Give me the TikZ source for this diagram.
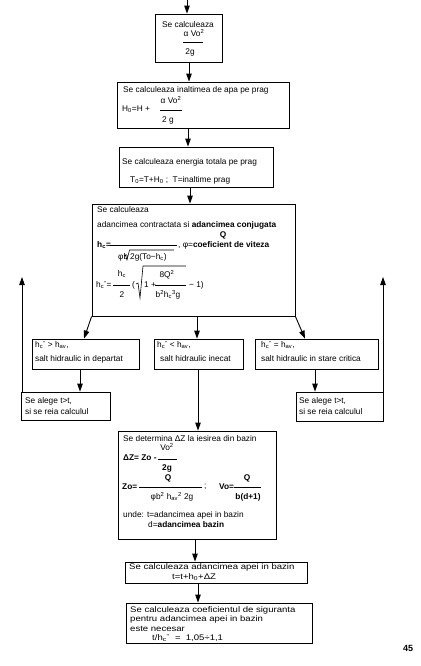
\documentclass[tikz,border=0pt]{standalone}
\usepackage{fontspec}
\setmainfont{Liberation Sans}
\newfontfamily\widefont[FakeStretch=1.18]{Liberation Sans}
\usetikzlibrary{arrows.meta}
\newcommand{\hcs}{h\textsubscript{c}\textsuperscript{''}}
\newcommand{\hav}{h\textsubscript{av}}
\begin{document}
\begin{tikzpicture}[x=1pt,y=-1pt,
  bx/.style={draw,line width=0.8pt,inner sep=0,rectangle},
  tx/.style={font=\fontsize{8.3}{9}\selectfont,inner sep=0,anchor=west},
  tc/.style={font=\fontsize{8.3}{9}\selectfont,inner sep=0,anchor=center},
  tw/.style={font=\widefont\fontsize{8.1}{9}\selectfont,inner sep=0,anchor=west},
  arr/.style={-{Triangle[length=8pt,width=5.5pt]},line width=0.9pt},
  fl/.style={line width=0.6pt}]
\fill[white] (0,0) rectangle (420,666);
\useasboundingbox (0,0) rectangle (420,666);

% boxes
\node[bx,minimum width=67pt,minimum height=48pt] (b1) at (188.5,38) {};
\node[bx,minimum width=172pt,minimum height=46pt] (b2) at (203,105) {};
\node[bx,minimum width=154pt,minimum height=40pt] (b3) at (196,167) {};
\node[bx,minimum width=203pt,minimum height=112pt] (b4) at (193.5,260) {};
\node[bx,minimum width=107pt,minimum height=30pt] (sL) at (85.5,354) {};
\node[bx,minimum width=89pt,minimum height=30pt] (sM) at (198.5,354) {};
\node[bx,minimum width=123pt,minimum height=30pt] (sR) at (316.5,354) {};
\node[bx,minimum width=89pt,minimum height=28pt] (aL) at (65.5,406) {};
\node[bx,minimum width=87pt,minimum height=29pt] (aR) at (339.5,406.5) {};
\node[bx,minimum width=158pt,minimum height=108pt] (b5) at (197,485) {};
\node[bx,minimum width=182pt,minimum height=21pt] (b6) at (216,572.5) {};
\node[bx,minimum width=186pt,minimum height=40pt] (b7) at (219,623) {};

% box 1 text
\node[tc] (t1a) at (188,25) {Se calculeaza};
\node[tc] (t1b) at (194,33) {α Vo\textsuperscript{2}};
\draw[fl] (183,42) -- (203,42);
\node[tc] (t1c) at (190,52) {2g};

% box 2 text
\node[tx] (t2a) at (123,90) {Se calculeaza inaltimea de apa pe prag};
\node[tc] (t2b) at (171,100) {α Vo\textsuperscript{2}};
\node[tx] (t2c) at (122,109) {H\textsubscript{0}=H +};
\draw[fl] (160,110) -- (182,110);
\node[tc] (t2d) at (168,120) {2 g};

% box 3 text
\node[tx] (t3a) at (122,162) {Se calculeaza energia totala pe prag};
\node[tx] (t3b) at (130,180) {T\textsubscript{0}=T+H\textsubscript{0} ;\ \ T=inaltime prag};

% box 4 text
\node[tx] (t4a) at (97,210) {Se calculeaza};
\node[tx] (t4b) at (97,225) {adancimea contractata si \textbf{adancimea conjugata}};
\node[tc] (t4c) at (223,235) {\textbf{Q}};
\node[tx] (t4d) at (97,245) {\textbf{h\textsubscript{c}=}};
\draw[fl] (110,245) -- (177,245);
\node[tx] (t4e) at (178,245) {, φ=\textbf{coeficient de viteza}};
\node[tx] (t4f) at (118,257) {φb};
\draw[fl] (124,256) -- (125.5,255) -- (127,260) -- (129.5,250) -- (174,250);
\node[tx] (t4g) at (130,257) {2g(To−h\textsubscript{c})};
\node[tx] (t4h) at (96,285) {\hcs=};
\node[tc] (t4i) at (122,274) {h\textsubscript{c}};
\draw[fl] (113,285) -- (130,285);
\node[tc] (t4j) at (122,295) {2};
\node[tx] (t4k) at (132,285) {(};
\draw[fl] (136,284) -- (138,283) -- (140,298) -- (143,266) -- (186,266);
\node[tx] (t4l) at (144,285) {1 +};
\node[tc] (t4m) at (167,275) {8Q\textsuperscript{2}};
\draw[fl] (155,285) -- (186,285);
\node[tc] (t4n) at (168,295) {b\textsuperscript{2}h\textsubscript{c}\textsuperscript{3}g};
\node[tx] (t4o) at (189,285) {− 1)};

% state boxes text
\node[tx] (tLa) at (35,345) {\hcs\ > \hav,};
\node[tx] (tLb) at (35,359) {salt hidraulic in departat};
\node[tx] (tMa) at (157,345) {\hcs\ < \hav,};
\node[tx] (tMb) at (160,359) {salt hidraulic inecat};
\node[tx] (tRa) at (261,345) {\hcs\ = \hav,};
\node[tx] (tRb) at (261,359) {salt hidraulic in stare critica};

% alege boxes text
\node[tx] (aLa) at (25,401) {Se alege t>t,};
\node[tx] (aLb) at (25,412) {si se reia calculul};
\node[tx] (aRa) at (299,401) {Se alege t>t,};
\node[tx] (aRb) at (299,412) {si se reia calculul};

% box 5 text
\node[tx] (t5a) at (123,439) {Se determina ΔZ la iesirea din bazin};
\node[tc] (t5b) at (167,447) {Vo\textsuperscript{2}};
\node[tx] (t5c) at (123,458) {\textbf{ΔZ= Zo -}};
\draw[fl] (158,459) -- (177,459);
\node[tc] (t5d) at (167,468) {\textbf{2g}};
\node[tc] (t5e) at (168,478) {\textbf{Q}};
\node[tx] (t5f) at (122,487) {\textbf{Zo=}};
\draw[fl] (139,487) -- (202,487);
\node[tx] (t5g) at (204,487) {;};
\node[tc] (t5h) at (172,497) {φb\textsuperscript{2} h\textsubscript{av}\textsuperscript{2} 2g};
\node[tc] (t5i) at (247,478) {\textbf{Q}};
\node[tx] (t5j) at (219,487) {\textbf{Vo=}};
\draw[fl] (234,487) -- (261,487);
\node[tc] (t5k) at (248,497) {\textbf{b(d+1)}};
\node[tx] (t5l) at (123,515) {unde: t=adancimea apei in bazin};
\node[tx] (t5m) at (148,525) {d=\textbf{adancimea bazin}};

% box 6 text
\node[tw] (t6a) at (129,567) {Se calculeaza adancimea apei in bazin};
\node[tw] (t6b) at (172,577) {t=t+h\textsubscript{0}+ΔZ};

% box 7 text
\node[tw] (t7a) at (130,610) {Se calculeaza coeficientul de siguranta};
\node[tw] (t7b) at (130,619.5) {pentru adancimea apei in bazin};
\node[tw] (t7c) at (130,628.5) {este necesar};
\node[tw] (t7d) at (152,638) {t/\hcs\ \ = \ 1,05÷1,1};

% page number
\node[font=\fontsize{9}{10}\selectfont\bfseries,inner sep=0] (pg) at (408,648) {45};

% connectors
\coordinate (top) at (187,0);
\coordinate (x12) at (189,0);
\coordinate (x23) at (188,0);
\coordinate (x34) at (190,0);
\coordinate (xm) at (197,0);
\coordinate (pL) at (84,0);
\coordinate (pR) at (305,0);
\coordinate (xl) at (80,0);
\coordinate (xr) at (315,0);
\coordinate (x5) at (198,0);
\coordinate (x56) at (195,0);
\coordinate (x67) at (198,0);
\coordinate (lt) at (22,277);
\coordinate (rt) at (383,277);

\draw[arr] (top) -- (b1.north -| top);
\draw[arr] (b1.south -| x12) -- (b2.north -| x12);
\draw[arr] (b2.south -| x23) -- (b3.north -| x23);
\draw[arr] (b3.south -| x34) -- (b4.north -| x34);
\draw[arr] (b4.south west) -- (sL.north -| pL);
\draw[arr] (b4.south -| xm) -- (sM.north -| xm);
\draw[arr] (b4.south east) -- (sR.north -| pR);
\draw[arr] (sL.south -| xl) -- (aL.north -| xl);
\draw[arr] (sR.south -| xr) -- (aR.north -| xr);
\draw[arr] (sM.south -| x5) -- (b5.north -| x5);
\draw[arr] (b5.south -| x56) -- (b6.north -| x56);
\draw[arr] (b6.south -| x67) -- (b7.north -| x67);
\draw[arr] (aL.north west -| lt) -- (lt);
\draw[arr] (aR.north east -| rt) -- (rt);
\end{tikzpicture}
\end{document}
